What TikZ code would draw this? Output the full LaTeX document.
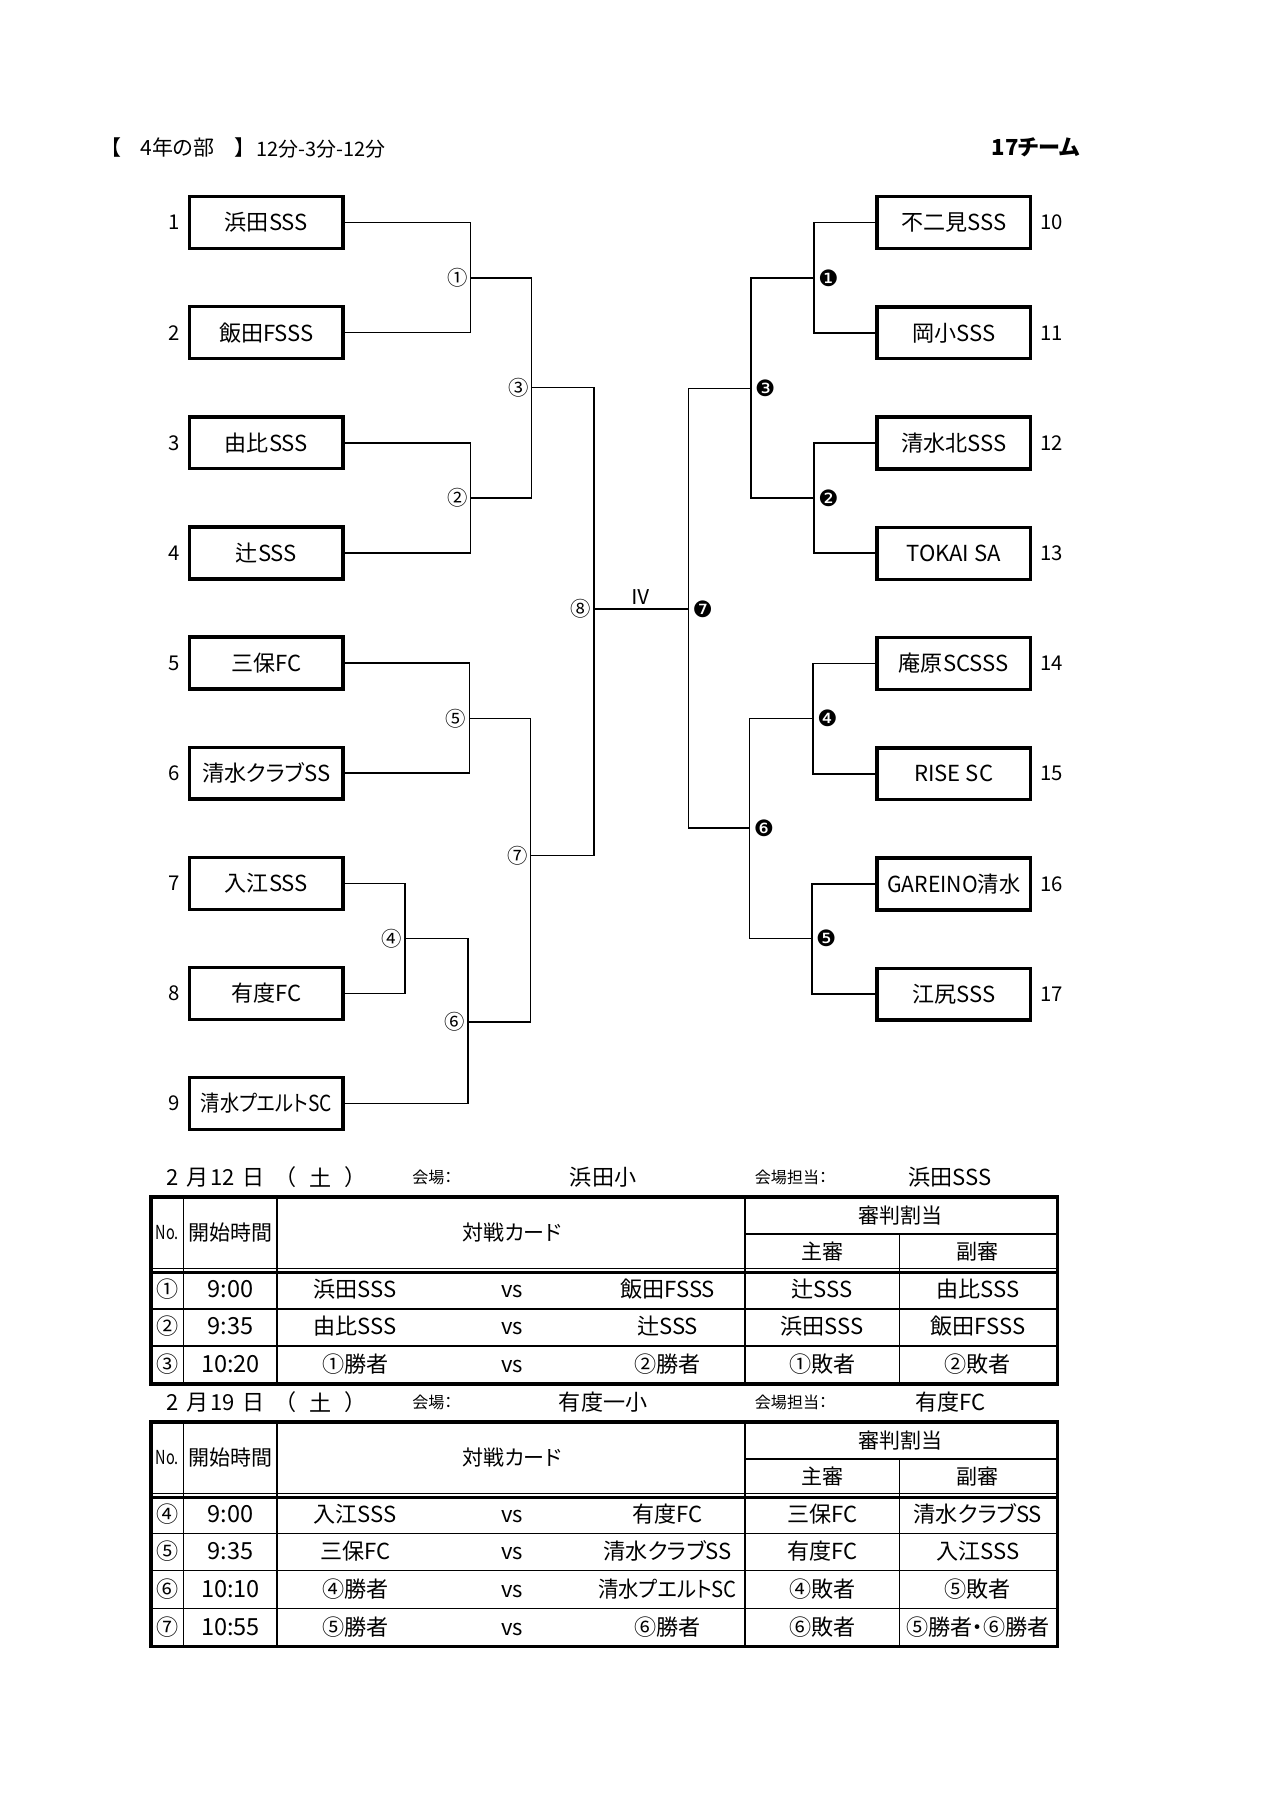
\documentclass[tikz,border=0pt]{standalone}
\usepackage{fontspec}
\setmainfont{Noto Sans CJK JP}[RawFeature=+palt]
\newfontfamily\dingfont{DejaVu Sans}

\tikzset{
	teambox/.style={draw,line width=1.6pt,minimum width=71.6pt,minimum height=24.2pt,inner sep=0pt,font=\fontsize{10.3}{12}\selectfont},
	seednum/.style={inner sep=3.5pt,font=\fontsize{9.5}{11}\selectfont},
	bline/.style={line width=0.75pt},
	wlabel/.style={inner sep=1.2pt,font=\fontsize{9.5}{10}\selectfont},
	blabel/.style={inner sep=1.8pt,font=\dingfont\fontsize{10.5}{11}\selectfont},
	headtext/.style={inner sep=0pt,font=\fontsize{9.8}{12}\selectfont},
	smalltext/.style={inner sep=0pt,font=\fontsize{7.5}{9}\selectfont},
	celltext/.style={anchor=base,inner sep=0pt,font=\fontsize{10.3}{12}\selectfont},
	thinrule/.style={line width=0.7pt},
	thickrule/.style={line width=1.6pt},
}

\begin{document}
\begin{tikzpicture}[x=0.538pt,y=-0.538pt]
	\useasboundingbox (0,0) rectangle (1110,1569.6);

	\node[headtext] (hl) at (100,128) {【};
	\node[headtext] (hdiv) at (154,128) {4年の部};
	\node[headtext] (hr) at (208,128) {】};
	\node[headtext,anchor=west,font=\fontsize{9.3}{11}\selectfont] (htime) at (222,129) {12分-3分-12分};
	\node[headtext,anchor=east,font=\bfseries\fontsize{10.3}{12}\selectfont] (hteams) at (937,128) {17チーム};

	\foreach \i/\t in {1/浜田SSS,2/飯田FSSS,3/由比SSS,4/辻SSS,5/三保FC,6/清水クラブSS,7/入江SSS,8/有度FC,9/\scalebox{0.87}[1]{清水プエルトSC}}{
		\node[teambox] (t\i) at (231,{193+95.5*(\i-1)}) {\t};
		\node[seednum,anchor=east] (s\i) at (t\i.west) {\i};
	}
	\foreach \i/\t in {10/不二見SSS,11/岡小SSS,12/清水北SSS,13/TOKAI SA,14/庵原SCSSS,15/RISE SC,16/\scalebox{0.96}[1]{GAREINO清水},17/江尻SSS}{
		\node[teambox] (t\i) at (827,{193+95.6*(\i-10)}) {\t};
		\node[seednum,anchor=west] (s\i) at (t\i.east) {\i};
	}

	\coordinate (m1) at (408,241);
	\coordinate (m2) at (408,432);
	\coordinate (m3) at (461,336);
	\coordinate (m4) at (351,814);
	\coordinate (m5) at (407,623);
	\coordinate (m6) at (406,886);
	\coordinate (m7) at (460,742);
	\coordinate (m8) at (515,528);
	\coordinate (r1) at (706,241);
	\coordinate (r2) at (706,432);
	\coordinate (r3) at (651,337);
	\coordinate (r4) at (705,623);
	\coordinate (r5) at (704,814);
	\coordinate (r6) at (650,718);
	\coordinate (r7) at (597,528);

	\draw[bline] (t1.east) -| (m1) |- (t2.east);
	\draw[bline] (t3.east) -| (m2) |- (t4.east);
	\draw[bline] (t5.east) -| (m5) |- (t6.east);
	\draw[bline] (t7.east) -| (m4) |- (t8.east);
	\draw[bline] (m1) -| (m3) |- (m2);
	\draw[bline] (m4) -| (m6) |- (t9.east);
	\draw[bline] (m5) -| (m7) |- (m6);
	\draw[bline] (m3) -| (m8) |- (m7);
	\draw[bline] (t10.west) -| (r1) |- (t11.west);
	\draw[bline] (t12.west) -| (r2) |- (t13.west);
	\draw[bline] (t14.west) -| (r4) |- (t15.west);
	\draw[bline] (t16.west) -| (r5) |- (t17.west);
	\draw[bline] (r1) -| (r3) |- (r2);
	\draw[bline] (r4) -| (r6) |- (r5);
	\draw[bline] (r3) -| (r7) |- (r6);
	\draw[bline] (m8) -- (r7) node[midway,above,inner sep=1.5pt,font=\fontsize{9.5}{11}\selectfont] (final) {Ⅳ};

	\foreach \p/\c in {m1/①,m2/②,m3/③,m4/④,m5/⑤,m6/⑥,m7/⑦,m8/⑧}
		\node[wlabel,anchor=east] (l\p) at (\p) {\c};
	\foreach \p/\c in {r1/❶,r2/❷,r3/❸,r4/❹,r5/❺,r6/❻,r7/❼}
		\node[blabel,anchor=west] (l\p) at (\p) {\c};

	\foreach \T/\dno/\venue/\host in {1021/12/浜田小/浜田SSS,1216/19/有度一小/有度FC}{
		\foreach \x/\c in {150/2,171/月,193/\dno,220/日,252/（,278/土,304/）}
			\node[headtext,font=\fontsize{10.3}{12}\selectfont] (dt\dno\x) at (\x,\T) {\c};
		\node[smalltext] (vl\dno) at (375,\T) {会場：};
		\node[headtext,font=\fontsize{10.3}{12}\selectfont] (vn\dno) at (523,\T) {\venue};
		\node[smalltext] (hl\dno) at (686,\T) {会場担当：};
		\node[headtext,font=\fontsize{10.3}{12}\selectfont] (hn\dno) at (824,\T) {\host};
	}

	\foreach \T/\B/\k in {1038/1200/a,1233/1428/b}{
		\draw[thinrule] (159,\T) -- (159,\B) (240,\T) -- (240,\B) (646,\T) -- (646,\B) (780,\T+32) -- (780,\B);
		\draw[thinrule] (646,\T+32) -- (917,\T+32) (131,\T+62) -- (917,\T+62);
		\draw[line width=1.1pt] (131,\T+65.5) -- (917,\T+65.5);
		\draw[thickrule] (131,\T) rectangle (917,\B);
		\node[smalltext,font=\fontsize{9}{10}\selectfont] (no\k) at (145,\T+31) {\scalebox{0.75}[1]{No.}};
		\node[headtext] (start\k) at (200,\T+31) {開始時間};
		\node[headtext] (card\k) at (444,\T+31) {対戦カード};
		\node[headtext] (ref\k) at (781,\T+16) {審判割当};
		\node[headtext] (main\k) at (713,\T+47) {主審};
		\node[headtext] (sub\k) at (848,\T+47) {副審};
	}
	\foreach \y in {1135,1167,1330,1362,1395}
		\draw[thinrule] (131,\y) -- (917,\y);

	\foreach \rowy/\num/\start/\home/\away/\refa/\refb [count=\k] in {1119/①/9:00/浜田SSS/飯田FSSS/辻SSS/由比SSS,1151/②/9:35/由比SSS/辻SSS/浜田SSS/飯田FSSS,1183.5/③/10:20/①勝者/②勝者/①敗者/②敗者,1314/④/9:00/入江SSS/有度FC/三保FC/清水クラブSS,1346/⑤/9:35/三保FC/清水クラブSS/有度FC/入江SSS,1378.5/⑥/10:10/④勝者/\scalebox{0.92}[1]{清水プエルトSC}/④敗者/⑤敗者,1411.5/⑦/10:55/⑤勝者/⑥勝者/⑥敗者/⑤勝者・⑥勝者}{
		\node[celltext] (rn\k) at (145,\rowy+6.5) {\num};
		\node[celltext,font=\fontsize{11}{12}\selectfont] (rt\k) at (200,\rowy+6.5) {\start};
		\node[celltext] (ra\k) at (308,\rowy+6.5) {\home};
		\node[celltext] (rv\k) at (444,\rowy+6.5) {vs};
		\node[celltext] (rb\k) at (579,\rowy+6.5) {\away};
		\node[celltext] (rc\k) at (713,\rowy+6.5) {\refa};
		\node[celltext] (re\k) at (848,\rowy+6.5) {\refb};
	}
\end{tikzpicture}
\end{document}
